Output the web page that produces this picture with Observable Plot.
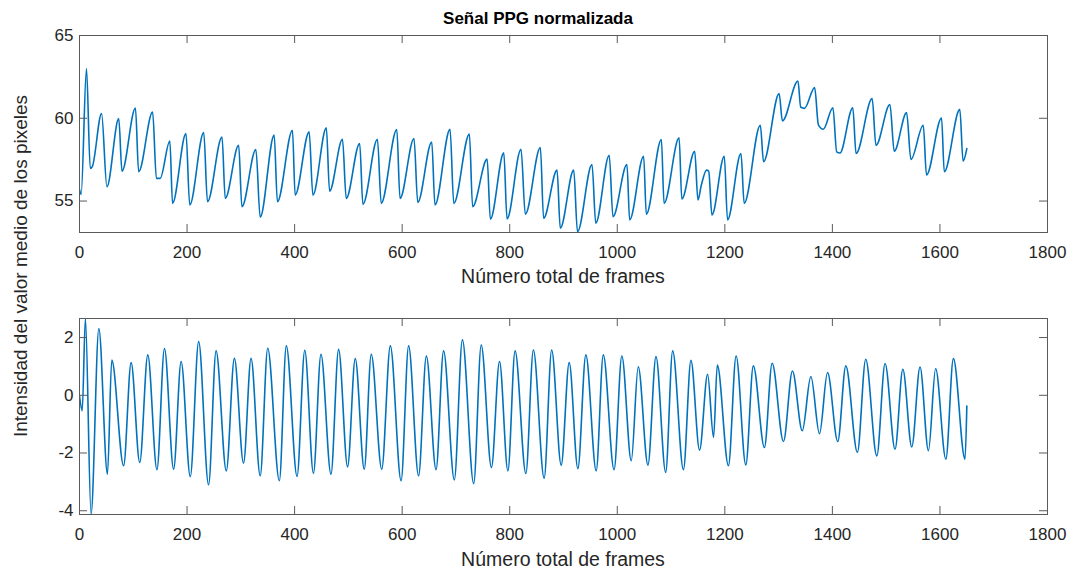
<!DOCTYPE html>
<html><head><meta charset="utf-8">
<script src="https://cdn.jsdelivr.net/npm/d3@7"></script>
<script src="https://cdn.jsdelivr.net/npm/@observablehq/plot@0.6"></script>
<style>
body{margin:0;background:#fff;}
#fig{position:relative;width:1068px;height:571px;font-family:"Liberation Sans",Arial,sans-serif;color:#262626;overflow:hidden;}
.lab{position:absolute;white-space:nowrap;line-height:1;transform:translate(-50%,-50%);}
#title{left:538px;top:18px;font-weight:bold;font-size:17px;color:#000;}
#xl1{left:563px;top:277px;font-size:19.5px;}
#xl2{left:563px;top:560px;font-size:19.5px;}
#ylab{left:20px;top:266px;font-size:19px;transform:translate(-50%,-50%) rotate(-90deg);}
#top,#bot{position:absolute;left:0;}
#top{top:0px}
#bot{top:290px}
</style></head>
<body><div id="fig">
<div id="top"></div><div id="bot"></div>
<div class="lab" id="title">Señal PPG normalizada</div>
<div class="lab" id="xl1">Número total de frames</div>
<div class="lab" id="xl2">Número total de frames</div>
<div class="lab" id="ylab">Intensidad del valor medio de los pixeles</div>
</div>
<script>
// ---- data (vertices of the signals) ----
const xTicks = [0,200,400,600,800,1000,1200,1400,1600,1800];
const topYTicks = [55,60,65];
const botYTicks = [-4,-2,0,2];

const topFrames = [0,3,13,20,24,41,51,73,79,104,110,136,143,150,168,173,198,205,231,238,265,271,296,302,328,336,362,368,396,401,427,434,459,465,489,496,521,527,554,561,590,596,622,629,655,661,689,696,725,731,758,764,789,795,821,829,857,863,888,894,919,926,953,960,985,992,1018,1023,1049,1054,1082,1087,1115,1120,1144,1150,1156,1166,1170,1176,1199,1205,1230,1236,1266,1272,1301,1307,1336,1341,1348,1367,1374,1383,1401,1408,1414,1438,1444,1474,1481,1507,1515,1538,1546,1569,1575,1603,1608,1637,1643,1650];
const topValues = [55.7,55.4,63.0,56.97,57.1,60.28,55.86,59.98,56.8,60.62,56.77,60.38,56.37,56.37,58.63,54.86,59.08,54.76,59.14,54.96,58.87,55.16,58.37,54.66,58.11,54.02,58.98,54.96,59.28,55.36,59.18,55.36,59.42,55.6,58.73,55.16,58.48,54.8,58.73,54.86,59.32,55.16,58.78,54.92,58.57,54.76,59.33,54.86,59.04,54.66,57.53,53.9,57.91,53.92,58.13,54.2,58.23,53.96,56.87,53.36,56.87,53.15,57.21,53.66,57.77,54.06,57.21,53.86,57.71,54.2,58.72,54.86,58.82,55.12,58.01,55.06,55.92,56.87,56.8,54.16,57.71,53.86,57.87,54.86,59.58,57.37,61.49,59.84,62.25,60.68,60.6,61.85,59.6,59.34,60.64,57.97,57.9,60.64,57.87,61.19,58.37,60.83,58.01,60.34,57.51,59.58,56.57,60.02,56.77,60.54,57.41,58.17];

const botFrames = [0,5,11,21.5,36,52,60,82,96,112,127,144,158,175,189,206,221.6,240,254,273,288,305,319,336,350,371.6,384.6,404.5,418.9,435,449,467.6,481.8,498.5,512.8,529.5,542.5,562,578,598,612,630.5,645,663,677,697,712,733,747,766,781,796.6,810,830,844,864,878,895.7,910.6,926.7,941.6,960.8,974,994,1008.5,1026,1039,1057,1072,1090,1103,1123,1137,1153,1168,1179,1186,1206.7,1221,1239,1253,1273.6,1288,1309,1325.7,1344,1360,1376,1391,1410,1425,1446.5,1462,1482.6,1498,1516.5,1531,1547.6,1563,1578.6,1592,1611,1625,1646.6,1650];
const botValues = [-0.02,-0.54,2.66,-4.12,2.31,-2.73,1.22,-2.44,1.13,-2.33,1.40,-2.58,1.62,-2.56,1.17,-2.82,1.86,-3.10,1.54,-2.62,1.28,-2.35,1.28,-2.79,1.63,-2.96,1.71,-2.81,1.56,-2.70,1.42,-2.73,1.59,-2.48,1.27,-2.56,1.42,-2.56,1.71,-2.96,1.71,-2.79,1.36,-2.58,1.54,-2.93,1.92,-3.06,1.74,-2.50,1.17,-2.62,1.54,-2.71,1.57,-2.87,1.57,-2.42,1.13,-2.54,1.40,-2.62,1.40,-2.58,1.36,-2.27,0.99,-2.42,1.34,-2.67,1.54,-2.58,1.21,-1.90,0.73,-1.46,1.05,-2.44,1.36,-2.41,1.02,-1.81,1.11,-1.60,0.84,-1.23,0.65,-1.33,0.79,-1.60,1.02,-1.98,1.25,-2.10,1.10,-1.87,0.90,-1.79,0.98,-1.92,0.93,-2.21,1.27,-2.21,-0.37];

const topYDomain = [53.1, 65];
const botYDomain = [-4.13, 2.66];

const W = 1068, ML = 79, MR = 21;
const AX = "#5a5a5a", LINE = "#0072BD";

function panel(frames, values, yDomain, yTicks, h, mt, mb) {
  const data = frames.map((f, i) => ({f, v: values[i]}));
  const fh = h - mt - mb, fw = W - ML - MR;
  return Plot.plot({
    width: W, height: h,
    marginLeft: ML, marginRight: MR, marginTop: mt, marginBottom: mb,
    style: {fontFamily: '"Liberation Sans", Arial, sans-serif', fontSize: "17px", color: "#262626", background: "transparent", overflow: "visible"},
    x: {domain: [0, 1800]},
    y: {domain: yDomain},
    marks: [
      Plot.line(data, {x: "f", y: "v", stroke: LINE, strokeWidth: 1.6, curve: "monotone-x", clip: true}),
      Plot.frame({stroke: AX, strokeWidth: 1}),
      Plot.tickX(xTicks, {x: d => d, insetTop: fh - 8, stroke: AX}),
      Plot.tickX(xTicks, {x: d => d, insetBottom: fh - 8, stroke: AX}),
      Plot.tickY(yTicks, {y: d => d, insetRight: fw - 8, stroke: AX}),
      Plot.tickY(yTicks, {y: d => d, insetLeft: fw - 8, stroke: AX}),
      Plot.axisX(xTicks, {tickSize: 0, tickPadding: 13, label: null, tickFormat: d => String(d), fill: "#262626"}),
      Plot.axisY(yTicks, {tickSize: 0, tickPadding: 6, label: null, tickFormat: d => String(d), fill: "#262626"})
    ]
  });
}

document.getElementById("top").append(panel(topFrames, topValues, topYDomain, topYTicks, 290, 35, 58));
document.getElementById("bot").append(panel(botFrames, botValues, botYDomain, botYTicks, 281, 28, 57));
</script>
</body></html>
